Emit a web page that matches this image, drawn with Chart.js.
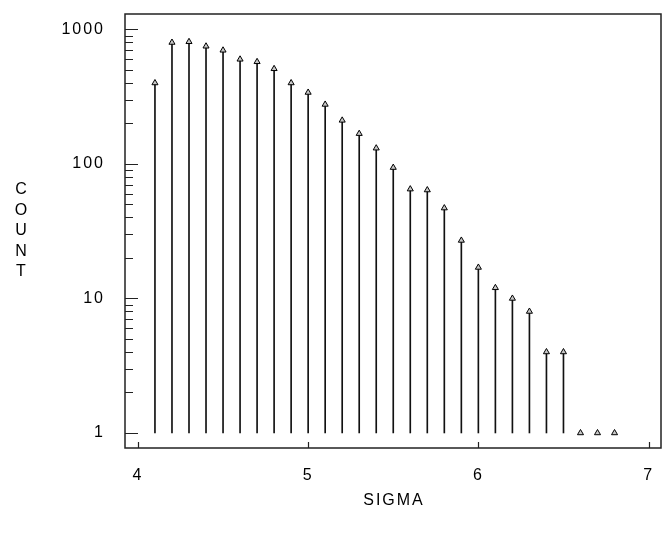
<!DOCTYPE html>
<html>
<head>
<meta charset="utf-8">
<script src="https://cdn.jsdelivr.net/npm/chart.js@4.4.1/dist/chart.umd.min.js"></script>
<style>
  html, body { margin: 0; padding: 0; background: #fff; }
</style>
</head>
<body>
<canvas id="chart" width="668" height="535"></canvas>
<script>
// data
const sigma = [4.1, 4.2, 4.3, 4.4, 4.5, 4.6, 4.7, 4.8, 4.9, 5.0, 5.1, 5.2, 5.3, 5.4,
               5.5, 5.6, 5.7, 5.8, 5.9, 6.0, 6.1, 6.2, 6.3, 6.4, 6.5, 6.6, 6.7, 6.8];
const counts = [400, 800, 810, 750, 700, 600, 575, 510, 400, 340, 277, 211, 168, 131,
                94, 65, 64, 47, 27, 17, 12, 10, 8, 4, 4, 1, 1, 1];
const xTicks = [4, 5, 6, 7];
const yTicks = [1, 10, 100, 1000];
const xTitle = 'SIGMA';
const yTitle = 'COUNT';

const FONT = "'Liberation Sans', Arial, sans-serif";

// frame, inward ticks and the titles
const decor = {
  id: 'decor',
  beforeDraw(chart) {
    chart.ctx.letterSpacing = '2px';
  },
  afterDraw(chart) {
    const { ctx, chartArea: a, scales: { x, y } } = chart;
    ctx.save();
    ctx.strokeStyle = '#222';
    ctx.lineWidth = 1.5;
    ctx.strokeRect(a.left, a.top, a.right - a.left, a.bottom - a.top);

    ctx.lineWidth = 1.2;
    ctx.beginPath();
    for (let d = 1; d <= 1000; d *= 10) {
      for (let m = 1; m <= 9; m++) {
        const v = d * m;
        if (v > y.max) break;
        const py = Math.round(y.getPixelForValue(v)) + 0.5;
        const len = m === 1 ? 13 : 8;
        ctx.moveTo(a.left, py);
        ctx.lineTo(a.left + len, py);
      }
    }
    xTicks.forEach(v => {
      const px = Math.round(x.getPixelForValue(v)) + 0.5;
      ctx.moveTo(px, a.bottom);
      ctx.lineTo(px, a.bottom - 6);
    });
    ctx.stroke();

    ctx.fillStyle = '#000';
    ctx.font = '16px ' + FONT;
    ctx.textAlign = 'center';
    ctx.textBaseline = 'middle';
    ctx.fillText(xTitle, (a.left + a.right) / 2 + 1, 501);
    const midY = (a.top + a.bottom) / 2;
    yTitle.split('').forEach((ch, i) => {
      ctx.fillText(ch, 22, midY + (i - 2) * 20.5);
    });
    ctx.restore();
    ctx.letterSpacing = '0px';
  }
};

new Chart(document.getElementById('chart'), {
  type: 'bar',
  data: {
    datasets: [
      {
        type: 'scatter',
        order: 0,
        data: sigma.map((s, i) => ({ x: s, y: counts[i] })),
        pointStyle: 'triangle',
        pointRadius: 3.5,
        borderWidth: 1,
        borderColor: '#000',
        backgroundColor: '#c8c8c8'
      },
      {
        type: 'bar',
        order: 1,
        data: sigma.map((s, i) => ({ x: s, y: [1, counts[i]] })),
        barThickness: 1,
        backgroundColor: '#111',
        borderWidth: 0
      }
    ]
  },
  options: {
    responsive: false,
    animation: false,
    layout: { padding: { top: 14, right: 7, left: 0, bottom: 0 } },
    plugins: { legend: { display: false }, tooltip: { enabled: false } },
    scales: {
      x: {
        type: 'linear',
        offset: false,
        min: 3.924,
        max: 7.073,
        grid: { display: false },
        border: { display: false },
        afterBuildTicks: s => { s.ticks = xTicks.map(v => ({ value: v })); },
        afterFit: s => { s.height = 87; s.paddingLeft = 0; s.paddingRight = 0; },
        ticks: {
          padding: 10,
          color: '#000',
          autoSkip: false,
          maxRotation: 0,
          font: { family: FONT, size: 16 },
          callback: v => String(v)
        }
      },
      y: {
        type: 'logarithmic',
        min: 0.773,
        max: 1303,
        grid: { display: false },
        border: { display: false },
        afterBuildTicks: s => { s.ticks = yTicks.map(v => ({ value: v })); },
        afterFit: s => { s.width = 125; s.paddingTop = 0; s.paddingBottom = 0; },
        ticks: {
          padding: 12,
          color: '#000',
          autoSkip: false,
          font: { family: FONT, size: 16 },
          callback: v => String(v)
        }
      }
    }
  },
  plugins: [decor]
});
</script>
</body>
</html>
